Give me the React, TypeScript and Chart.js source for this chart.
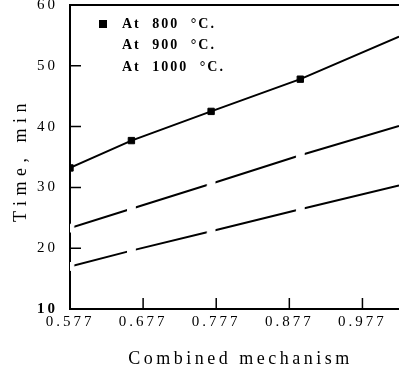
import React, { useEffect, useRef } from "react";
import { Chart, registerables } from "chart.js";

Chart.register(...registerables);

const seriesLabels = ["At 800 °C.", "At 900 °C.", "At 1000 °C."];
const mechanismX = [0.577, 0.661, 0.77, 0.892, 1.027];
const time800 = [33.2, 37.7, 42.5, 47.8, 54.8];
const time900 = [23.3, 26.5, 30.6, 35.3, 40.1];
const time1000 = [17.0, 19.6, 22.8, 26.4, 30.3];
const xTickValues = [0.577, 0.677, 0.777, 0.877, 0.977];
const yTickValues = [10, 20, 30, 40, 50, 60];
const xTitle = "Combined mechanism";
const yTitle = "Time, min";

const X_MIN = 0.577;
const X_MAX = 1.027;
const SERIF = "'Liberation Serif', 'Times New Roman', serif";

const decorPlugin = {
  id: "decor",
  beforeDraw(chart: any) {
    chart.ctx.letterSpacing = "3px";
  },
  beforeDatasetsDraw(chart: any) {
    const { ctx, chartArea, scales } = chart;
    const { left, right, top, bottom } = chartArea;
    const x = scales.x;
    const y = scales.y;
    ctx.save();
    ctx.strokeStyle = "#000";
    ctx.lineWidth = 2;
    ctx.beginPath();
    ctx.moveTo(left - 1, top);
    ctx.lineTo(right, top);
    ctx.stroke();
    ctx.lineWidth = 1.5;
    ctx.beginPath();
    for (const v of yTickValues) {
      if (v === y.min || v === y.max) continue;
      const py = y.getPixelForValue(v);
      ctx.moveTo(left, py);
      ctx.lineTo(left + 11, py);
    }
    for (const v of xTickValues) {
      if (v === x.min) continue;
      const px = x.getPixelForValue(v);
      ctx.moveTo(px, bottom);
      ctx.lineTo(px, bottom - 11);
    }
    ctx.stroke();
    ctx.restore();
  },
  afterDraw(chart: any) {
    const { ctx, chartArea } = chart;
    const { left, right, top, bottom } = chartArea;
    ctx.save();
    // legend
    ctx.font = `bold 14px ${SERIF}`;
    ctx.letterSpacing = "2px";
    (ctx as any).wordSpacing = "6px";
    ctx.textBaseline = "middle";
    ctx.textAlign = "left";
    chart.data.datasets.forEach((ds: any, i: number) => {
      const yy = top + 19 + i * 21.5;
      ctx.fillStyle = ds.pointBackgroundColor;
      ctx.fillRect(left + 29, yy - 4, 8, 8);
      ctx.fillStyle = "#000";
      ctx.fillText(ds.label, left + 52, yy);
    });
    (ctx as any).wordSpacing = "0px";
    // x title
    ctx.font = `18px ${SERIF}`;
    ctx.letterSpacing = "3.5px";
    ctx.textAlign = "center";
    ctx.fillStyle = "#000";
    ctx.fillText(xTitle, (left + right) / 2 + 6, chart.height - 15);
    // y title
    ctx.letterSpacing = "5.5px";
    ctx.translate(21, (top + bottom) / 2 + 3);
    ctx.rotate(-Math.PI / 2);
    ctx.fillText(yTitle, 0, 0);
    ctx.restore();
  },
};

function makeDataset(label: string, values: number[], fill: string, radius: number) {
  return {
    label,
    data: mechanismX.map((x, i) => ({ x, y: values[i] })),
    showLine: true,
    borderColor: "#000",
    borderWidth: 2,
    pointStyle: "rect",
    pointRadius: (c: any) => (c.parsed && c.parsed.x >= X_MAX ? 0 : radius),
    pointBackgroundColor: fill,
    pointBorderColor: fill,
    pointBorderWidth: 1,
  };
}

export default function App() {
  const ref = useRef<HTMLCanvasElement>(null);
  useEffect(() => {
    if (!ref.current) return;
    const chart = new Chart(ref.current, {
      type: "scatter",
      data: {
        datasets: [
          makeDataset(seriesLabels[0], time800, "#000", 4.5),
          makeDataset(seriesLabels[1], time900, "#fff", 5.5),
          makeDataset(seriesLabels[2], time1000, "#fff", 5.5),
        ] as any,
      },
      options: {
        animation: false,
        responsive: false,
        events: [],
        layout: { autoPadding: false, padding: { top: 5, left: 0, right: 0, bottom: 0 } },
        plugins: { legend: { display: false }, tooltip: { enabled: false } },
        scales: {
          x: {
            type: "linear",
            min: X_MIN,
            max: X_MAX,
            afterBuildTicks: (s: any) => {
              s.ticks = xTickValues.map((v) => ({ value: v }));
            },
            afterFit: (s: any) => {
              s.height = 65;
              s.paddingLeft = 0;
              s.paddingRight = 0;
            },
            grid: { display: false, drawTicks: false },
            border: { display: true, color: "#000", width: 2 },
            ticks: {
              autoSkip: false,
              maxRotation: 0,
              padding: 4,
              color: "#000",
              font: { family: SERIF, size: 15 },
              callback: (v: any) => Number(v).toFixed(3),
            },
          },
          y: {
            type: "linear",
            min: 10,
            max: 60,
            afterBuildTicks: (s: any) => {
              s.ticks = yTickValues.map((v) => ({ value: v }));
            },
            afterFit: (s: any) => {
              s.width = 70;
              s.paddingTop = 0;
              s.paddingBottom = 0;
            },
            grid: { display: false, drawTicks: false },
            border: { display: true, color: "#000", width: 2 },
            ticks: {
              autoSkip: false,
              padding: 12,
              color: "#000",
              font: (c: any) => ({
                family: SERIF,
                size: 15,
                weight: c.tick && c.tick.value === 10 ? "bold" : "normal",
              }),
              callback: (v: any) => String(v),
            },
          },
        },
      } as any,
      plugins: [decorPlugin],
    });
    return () => chart.destroy();
  }, []);
  return (
    <div style={{ position: "absolute", left: 0, top: 0, width: 399, height: 374 }}>
      <canvas ref={ref} width={399} height={374} style={{ display: "block" }} />
    </div>
  );
}
